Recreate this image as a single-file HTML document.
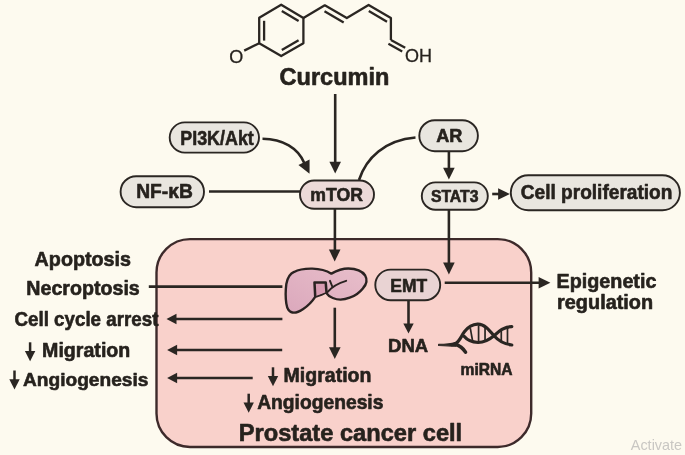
<!DOCTYPE html>
<html lang="en">
<head>
<meta charset="utf-8">
<title>Curcumin – prostate cancer cell signalling</title>
<style>
  html,body{margin:0;padding:0;background:#FDFAEF;}
  body{width:685px;height:455px;overflow:hidden;}
  svg{display:block;}
  text{font-family:"Liberation Sans",Arial,sans-serif;fill:#26221f;}
  .b text,text.b{stroke:#26221f;stroke-width:0.6;stroke-linejoin:round;}
  .b{font-weight:bold;}
  .ln{stroke:#2b2623;stroke-width:2.6;fill:none;stroke-linecap:butt;}
  .pill{fill:#E9E6DF;stroke:#2b2623;stroke-width:1.9;}
  .pillp{fill:#ECDAD8;stroke:#2b2623;stroke-width:1.9;}
  .ah{fill:#2b2623;stroke:none;}
</style>
</head>
<body>
<svg width="685" height="455" viewBox="0 0 685 455">
  <defs><filter id="soft" x="0" y="0" width="100%" height="100%" filterUnits="userSpaceOnUse"><feGaussianBlur stdDeviation="0.45"/></filter></defs>
  <rect x="0" y="0" width="685" height="455" fill="#FDFAEF"/>
  <g filter="url(#soft)">
  <rect x="-5" y="-5" width="695" height="465" fill="#FDFAEF"/>

  <!-- cell -->
  <rect x="156.5" y="239.1" width="374.7" height="207.9" rx="33.5" ry="33.5" fill="#F9D1CB" stroke="#3d2a2c" stroke-width="2.4"/>

  <!-- molecule -->
  <g class="ln" style="stroke-width:2.3" stroke-linejoin="round">
    <polygon points="281.2,4.7 303.4,18 303.4,43.2 281.2,56.1 259.2,43.2 259.2,17.8"/>
    <line x1="281.8" y1="11" x2="298.6" y2="21"/>
    <line x1="298.6" y1="40.2" x2="281.8" y2="50"/>
    <line x1="264.1" y1="20.8" x2="264.1" y2="40.6"/>
    <line x1="259.2" y1="43.2" x2="244.2" y2="50.6"/>
    <polyline points="303.4,18 324.8,5.3 346.8,18 368.6,5 390.9,18 390.9,40"/>
    <line x1="324.5" y1="11.2" x2="343.7" y2="22.4"/>
    <line x1="368.8" y1="11" x2="387" y2="21.7"/>
    <line x1="390.9" y1="40" x2="405.2" y2="47.8"/>
    <line x1="388.4" y1="43.8" x2="402.2" y2="51.4"/>
  </g>
  <text x="229.3" y="62.9" font-size="18" textLength="14" lengthAdjust="spacingAndGlyphs" style="stroke:#26221f;stroke-width:0.3">O</text>
  <text x="405" y="61.8" font-size="18" textLength="27" lengthAdjust="spacingAndGlyphs" style="stroke:#26221f;stroke-width:0.3">OH</text>
  <text class="b" x="279.6" y="85.2" font-size="23" textLength="109.8" lengthAdjust="spacingAndGlyphs">Curcumin</text>

  <!-- connectors -->
  <g class="ln">
    <line x1="335.2" y1="94" x2="335.2" y2="164"/>
    <path d="M262.5 138.8 C283 139 298 148 304.3 163"/>
    <path d="M415.5 137.5 C385 140 366 158 359 180"/>
    <line x1="209" y1="191.5" x2="300" y2="191.5"/>
    <line x1="448.9" y1="151.4" x2="448.9" y2="171"/>
    <line x1="492.2" y1="194" x2="502" y2="194"/>
    <line x1="334.9" y1="208.7" x2="334.9" y2="252"/>
    <line x1="448.9" y1="209.8" x2="448.9" y2="265"/>
    <line x1="444.7" y1="282.7" x2="541" y2="282.7"/>
    <line x1="408.5" y1="300.2" x2="408.5" y2="325"/>
    <line x1="148.8" y1="286.6" x2="282.4" y2="286.6"/>
    <line x1="175" y1="319" x2="282.4" y2="319"/>
    <line x1="175" y1="350" x2="282.2" y2="350"/>
    <line x1="175" y1="378" x2="252.7" y2="378"/>
    <line x1="334.8" y1="307.7" x2="334.8" y2="350"/>
  </g>
  <!-- arrowheads (tip at origin pointing down) -->
  <defs>
    <path id="ahd" d="M0 0.5 L-5.8 -11.3 L5.8 -11.3 Z"/>
    <path id="ahs" d="M0 0.5 L-5.2 -9.5 L5.2 -9.5 Z"/>
  </defs>
  <g class="ah">
    <use href="#ahd" transform="translate(335.2,173)"/>
    <use href="#ahd" transform="translate(309.3,173.2) rotate(-26) scale(1.07)"/>
    <use href="#ahd" transform="translate(448.9,179)"/>
    <use href="#ahd" transform="translate(509.4,194) rotate(-90)"/>
    <use href="#ahd" transform="translate(334.7,260.9)"/>
    <use href="#ahd" transform="translate(448.9,273.9)"/>
    <use href="#ahd" transform="translate(549.9,282.7) rotate(-90)"/>
    <use href="#ahs" transform="translate(408.5,333)"/>
    <use href="#ahs" transform="translate(167,319) rotate(90)"/>
    <use href="#ahs" transform="translate(167.6,350) rotate(90)"/>
    <use href="#ahs" transform="translate(167.6,378) rotate(90)"/>
    <use href="#ahd" transform="translate(334.8,358.5)"/>
  </g>

  <!-- pills -->
  <rect class="pill" x="169.7" y="122.4" width="89.3" height="30.2" rx="15.1"/>
  <rect class="pill" x="120.6" y="176.2" width="83.4" height="31" rx="15.5"/>
  <rect class="pillp" x="300" y="180.5" width="74" height="28.2" rx="14.1"/>
  <rect class="pill" x="419.3" y="120.2" width="58.6" height="31" rx="15.5"/>
  <rect class="pill" x="421.8" y="182.4" width="66" height="27.3" rx="13.6"/>
  <rect class="pill" x="510.8" y="175.2" width="169.1" height="35.1" rx="17.5"/>
  <rect class="pillp" style="fill:#E9D3D3" x="375.3" y="269.6" width="64.9" height="30.6" rx="15.3"/>

  <!-- pill labels -->
  <g class="b">
    <text x="180.3" y="145.2" font-size="20.8" textLength="73.5" lengthAdjust="spacingAndGlyphs">PI3K/Akt</text>
    <text x="136.2" y="198.3" font-size="20" textLength="56.6" lengthAdjust="spacingAndGlyphs">NF-κB</text>
    <text x="310.3" y="201.3" font-size="18.2" textLength="52.6" lengthAdjust="spacingAndGlyphs">mTOR</text>
    <text x="436.2" y="142.1" font-size="18.2" textLength="26.2" lengthAdjust="spacingAndGlyphs">AR</text>
    <text x="430.9" y="201.5" font-size="16.4" textLength="47.6" lengthAdjust="spacingAndGlyphs">STAT3</text>
    <text x="520.8" y="199" font-size="19.6" textLength="151.6" lengthAdjust="spacingAndGlyphs">Cell proliferation</text>
    <text x="390.3" y="292.3" font-size="18.5" textLength="36.9" lengthAdjust="spacingAndGlyphs">EMT</text>
  </g>

  <!-- left labels -->
  <g class="b">
    <text x="34.6" y="265.6" font-size="19.6" textLength="96.4" lengthAdjust="spacingAndGlyphs">Apoptosis</text>
    <text x="26.3" y="295.2" font-size="19.6" textLength="113.5" lengthAdjust="spacingAndGlyphs">Necroptosis</text>
    <text x="14.5" y="325.6" font-size="19.6" textLength="143.9" lengthAdjust="spacingAndGlyphs">Cell cycle arrest</text>
    <text x="42.1" y="357" font-size="19.6" textLength="88.2" lengthAdjust="spacingAndGlyphs">Migration</text>
    <text x="23" y="385.7" font-size="19.2" textLength="125.4" lengthAdjust="spacingAndGlyphs">Angiogenesis</text>
    <text x="283.6" y="381.6" font-size="19.5" textLength="87.8" lengthAdjust="spacingAndGlyphs">Migration</text>
    <text x="257.2" y="408.7" font-size="19.3" textLength="126.2" lengthAdjust="spacingAndGlyphs">Angiogenesis</text>
    <text x="238.8" y="441.3" font-size="23.2" textLength="223.4" lengthAdjust="spacingAndGlyphs">Prostate cancer cell</text>
    <text x="556.6" y="287.7" font-size="19.7" textLength="99.8" lengthAdjust="spacingAndGlyphs">Epigenetic</text>
    <text x="557.1" y="309" font-size="19.8" textLength="96" lengthAdjust="spacingAndGlyphs">regulation</text>
    <text x="388.1" y="351.8" font-size="18.6" textLength="40.1" lengthAdjust="spacingAndGlyphs">DNA</text>
    <text x="460.6" y="374.9" font-size="16.2" textLength="52" lengthAdjust="spacingAndGlyphs">miRNA</text>
  </g>

  <!-- small down arrows -->
  <defs>
    <g id="dn">
      <line x1="0" y1="0" x2="0" y2="12" stroke="#2b2623" stroke-width="2.5"/>
      <path d="M0 19 L-5.2 8.8 L5.2 8.8 Z" fill="#2b2623"/>
    </g>
  </defs>
  <use href="#dn" transform="translate(30.1,342.3)"/>
  <use href="#dn" transform="translate(14.5,370.5)"/>
  <use href="#dn" transform="translate(273,367.3)"/>
  <use href="#dn" transform="translate(248.7,393.7)"/>

  <!-- liver -->
  <g transform="translate(280,260) scale(0.14077)" stroke="#2b2421" stroke-width="17" stroke-linejoin="round" stroke-linecap="round">
    <defs><linearGradient id="lg" x1="1" y1="0" x2="0" y2="1"><stop offset="0" stop-color="#E8BECA"/><stop offset="1" stop-color="#DBA8BC"/></linearGradient></defs>
    <path fill="url(#lg)" d="M45 170 C55 120 75 95 100 85 C130 68 180 60 230 61 C280 62 335 78 365 97 C395 80 440 60 485 60 C540 60 585 80 605 110 C622 140 612 175 590 200 C565 232 530 255 495 268 C455 284 410 285 375 270 C350 260 335 245 325 230 C305 245 275 255 250 262 C235 285 200 325 165 348 C140 365 110 378 88 373 C65 368 50 345 45 310 C38 265 40 210 45 170 Z"/>
    <path fill="#D89CB2" stroke="none" d="M245 160 L325 160 L330 228 L250 258 Z"/>
    <path fill="none" stroke-width="18" d="M250 256 L245 160 L325 160 L330 228"/>
    <path fill="none" stroke-width="14" d="M335 230 C360 200 400 168 470 148"/>
    <path fill="none" stroke-width="14" d="M355 148 L372 190"/>
  </g>

  <!-- DNA helix -->
  <g transform="translate(432,316) scale(0.13196)" fill="none" stroke="#2b2623" stroke-linecap="round" stroke-linejoin="round">
    <path stroke-width="24" d="M150 217 C160 216 168 214 175 211 C207 199 222 150 247 118 C272 86 305 64 345 62 C395 60 430 100 470 150 C500 185 540 212 605 220"/>
    <path fill="#2b2623" stroke-width="8" d="M50 214 C100 213 140 211 175 200 L192 216 L180 229 C150 230 100 227 50 224 Z"/>
    <path stroke-width="27" d="M180 216 C207 223 236 246 254 274"/>
    <path stroke-width="24" d="M243 154 C262 178 300 198 350 201 C400 200 440 175 470 150 C505 118 545 80 605 80"/>
    <g stroke-width="13" stroke-linecap="butt">
      <line x1="290" y1="92" x2="308" y2="190"/>
      <line x1="353" y1="72" x2="353" y2="198"/>
      <line x1="402" y1="88" x2="402" y2="188"/>
      <line x1="525" y1="100" x2="525" y2="190"/>
      <line x1="572" y1="82" x2="572" y2="212"/>
    </g>
  </g>

  <!-- watermark -->
  <text x="630.8" y="450" font-size="14.4" textLength="51.3" lengthAdjust="spacingAndGlyphs" style="fill:#c9c7c3">Activate</text>
  </g>
</svg>
</body>
</html>
